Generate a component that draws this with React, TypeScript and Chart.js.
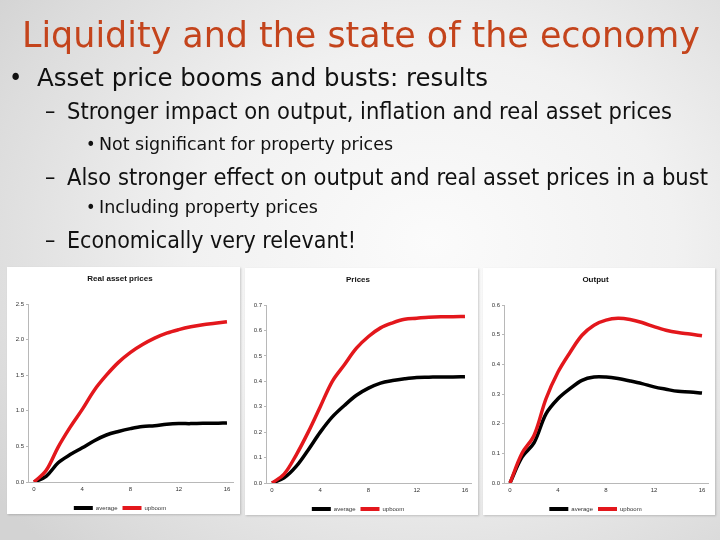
import React, { useEffect, useLayoutEffect, useRef } from "react";
import { Chart, registerables } from "chart.js";

Chart.register(...registerables);

// ---------- data ----------
const quarters = ["0","1","2","3","4","5","6","7","8","9","10","11","12","13","14","15","16"];
const shownTicks = ["0", "4", "8", "12", "16"];
const seriesNames = ["average", "upboom"];
const chartTitles = ["Real asset prices", "Prices", "Output"];

const assetAverage = [0, 0.08, 0.27, 0.385, 0.48, 0.58, 0.66, 0.71, 0.75, 0.78, 0.79, 0.81, 0.82, 0.82, 0.825, 0.825, 0.83];
const assetUpboom = [0, 0.16, 0.49, 0.77, 1.02, 1.29, 1.5, 1.68, 1.82, 1.93, 2.02, 2.09, 2.14, 2.18, 2.21, 2.23, 2.25];

const pricesAverage = [0, 0.02, 0.065, 0.13, 0.2, 0.26, 0.305, 0.345, 0.373, 0.393, 0.403, 0.41, 0.415, 0.416, 0.417, 0.417, 0.418];
const pricesUpboom = [0, 0.035, 0.11, 0.2, 0.3, 0.4, 0.465, 0.53, 0.576, 0.61, 0.63, 0.644, 0.648, 0.652, 0.654, 0.654, 0.655];

const outputAverage = [0, 0.087, 0.135, 0.233, 0.284, 0.318, 0.346, 0.357, 0.357, 0.352, 0.344, 0.335, 0.324, 0.316, 0.309, 0.307, 0.303];
const outputUpboom = [0, 0.1, 0.16, 0.284, 0.374, 0.44, 0.498, 0.532, 0.549, 0.555, 0.551, 0.541, 0.527, 0.515, 0.507, 0.502, 0.496];

const yMaxes = [2.5, 0.7, 0.6];
const ySteps = [0.5, 0.1, 0.1];

// ---------- slide text ----------
const slideTitle = "Liquidity and the state of the economy";
const bulletTexts = [
  "Asset price booms and busts: results",
  "Stronger impact on output, inflation and real asset prices",
  "Not significant for property prices",
  "Also stronger effect on output and real asset prices in a bust",
  "Including property prices",
  "Economically very relevant!",
];
const bulletMarkers = ["•", "–", "•", "–", "•", "–"];

// layout (positions only)
const titleBox = { x: 22, base: 47, w: 678, f: 36 };
const lineBoxes = [
  { x: 37, base: 86, w: 451, f: 25, mx: 9 },
  { x: 67, base: 119, w: 605, f: 23, mx: 45 },
  { x: 99, base: 150, w: 294, f: 18, mx: 86 },
  { x: 67, base: 185, w: 641, f: 23, mx: 45 },
  { x: 99, base: 213, w: 219, f: 18, mx: 86 },
  { x: 67, base: 248, w: 289, f: 23, mx: 45 },
];
const panelBoxes = [
  { left: 7, top: 267, w: 233, h: 247 },
  { left: 245, top: 268, w: 233, h: 247 },
  { left: 483, top: 268, w: 232, h: 247 },
];

const FONT = "'DejaVu Sans Condensed', 'DejaVu Sans', sans-serif";

function FitText(props: { x: number; base: number; w: number; f: number; color: string; text: string }) {
  const ref = useRef<HTMLDivElement>(null);
  useLayoutEffect(() => {
    const el = ref.current;
    if (!el) return;
    el.style.transform = "none";
    const natural = el.getBoundingClientRect().width;
    if (natural > 0) el.style.transform = `scaleX(${props.w / natural})`;
  });
  return (
    <div
      ref={ref}
      style={{
        position: "absolute",
        left: props.x,
        top: props.base - 0.846 * props.f,
        fontFamily: FONT,
        fontSize: props.f,
        lineHeight: `${props.f}px`,
        color: props.color,
        whiteSpace: "nowrap",
        transformOrigin: "0 0",
      }}
    >
      {props.text}
    </div>
  );
}

function MiniChart(props: { idx: number; avg: number[]; up: number[] }) {
  const ref = useRef<HTMLCanvasElement>(null);
  const { idx } = props;
  useEffect(() => {
    if (!ref.current) return;
    const tickFont = { family: "'Liberation Sans', Arial, sans-serif", size: 6 };
    const chart = new Chart(ref.current, {
      type: "line",
      data: {
        labels: quarters,
        datasets: [
          {
            label: seriesNames[0],
            data: props.avg,
            borderColor: "#000000",
            backgroundColor: "#000000",
            borderWidth: 3.5,
            pointRadius: 0,
            tension: 0.35,
            order: 1,
          },
          {
            label: seriesNames[1],
            data: props.up,
            borderColor: "#e3171c",
            backgroundColor: "#e3171c",
            borderWidth: 3.5,
            pointRadius: 0,
            tension: 0.35,
            order: 0,
          },
        ],
      },
      options: {
        animation: false,
        responsive: false,
        maintainAspectRatio: false,
        layout: { padding: { left: 0, right: 7, top: 0, bottom: 0 } },
        plugins: {
          title: {
            display: true,
            text: chartTitles[idx],
            color: "#111",
            font: { family: "'Liberation Sans', Arial, sans-serif", size: 8, weight: "bold" },
            padding: { top: 7, bottom: 20.4 },
          },
          legend: {
            position: "bottom",
            labels: {
              boxWidth: 19,
              boxHeight: 4,
              padding: 5,
              color: "#333",
              font: tickFont,
              sort: (a: any, b: any) => a.datasetIndex - b.datasetIndex,
              generateLabels: (c: any) =>
                Chart.defaults.plugins.legend.labels
                  .generateLabels(c)
                  .map((l: any) => ({ ...l, lineWidth: 0 })),
            },
          },
          tooltip: { enabled: false },
        },
        scales: {
          x: {
            offset: true,
            grid: { display: false, drawTicks: false },
            border: { display: true, color: "#b8b8b8", width: 1 },
            ticks: {
              autoSkip: false,
              maxRotation: 0,
              padding: 4,
              color: "#333",
              font: tickFont,
              callback: (_v: any, i: number) => (shownTicks.includes(quarters[i]) ? quarters[i] : ""),
            },
            afterFit: (s: any) => {
              s.height = 18;
            },
          },
          y: {
            min: 0,
            max: yMaxes[idx],
            grid: { drawOnChartArea: false, tickLength: 2, color: "#b8b8b8" },
            border: { display: true, color: "#b8b8b8", width: 1 },
            ticks: {
              stepSize: ySteps[idx],
              padding: 2,
              color: "#333",
              font: tickFont,
              callback: (v: any) => Number(v).toFixed(1),
            },
            afterFit: (s: any) => {
              s.width = 21;
            },
          },
        },
      },
    });
    return () => chart.destroy();
  }, []);
  const p = panelBoxes[idx];
  return (
    <div
      style={{
        position: "absolute",
        left: p.left,
        top: p.top,
        width: p.w,
        height: p.h,
        background: "#ffffff",
        boxShadow: "1px 1px 2px rgba(0,0,0,0.18)",
      }}
    >
      <canvas
        ref={ref}
        width={p.w}
        height={p.h + 7}
        style={{ position: "absolute", left: 0, top: 0, width: p.w, height: p.h + 7 }}
      />
    </div>
  );
}

export default function App() {
  return (
    <div
      style={{
        position: "fixed",
        left: 0,
        top: 0,
        width: 720,
        height: 540,
        overflow: "hidden",
        background:
          "radial-gradient(ellipse 75% 80% at 60% 45%, #fbfbfb 0%, #f1f1f1 45%, #dcdcdc 85%, #d3d3d3 100%)",
      }}
    >
      <FitText x={titleBox.x} base={titleBox.base} w={titleBox.w} f={titleBox.f} color="#c4441c" text={slideTitle} />
      {bulletTexts.map((t, i) => {
        const b = lineBoxes[i];
        return (
          <React.Fragment key={i}>
            <div
              style={{
                position: "absolute",
                left: b.mx,
                top: b.base - 0.846 * b.f,
                fontFamily: FONT,
                fontSize: b.f,
                lineHeight: `${b.f}px`,
                color: "#111",
              }}
            >
              {bulletMarkers[i]}
            </div>
            <FitText x={b.x} base={b.base} w={b.w} f={b.f} color="#111" text={t} />
          </React.Fragment>
        );
      })}
      <MiniChart idx={0} avg={assetAverage} up={assetUpboom} />
      <MiniChart idx={1} avg={pricesAverage} up={pricesUpboom} />
      <MiniChart idx={2} avg={outputAverage} up={outputUpboom} />
    </div>
  );
}
